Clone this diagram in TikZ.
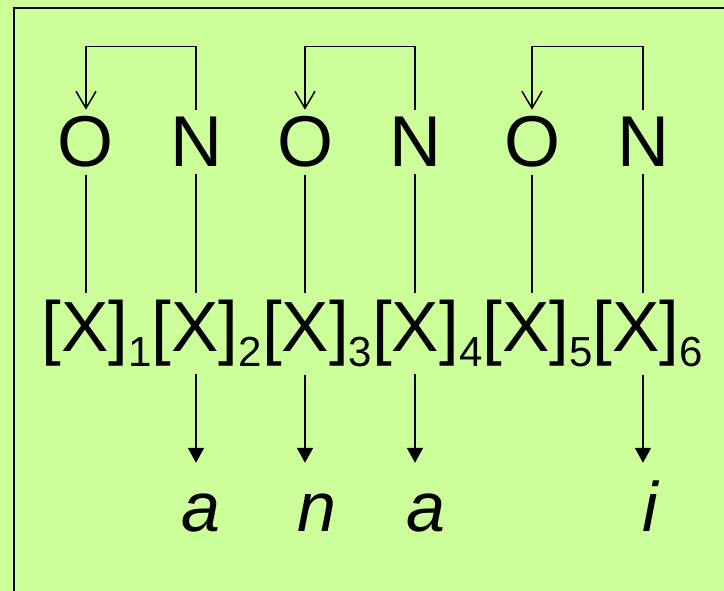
\documentclass[tikz,border=0pt]{standalone}
\usepackage{fontspec}
\setmainfont{Liberation Sans}
\usetikzlibrary{arrows.meta}
\definecolor{paper}{RGB}{204,255,153}
\newcommand{\xslot}[1]{[X]\raisebox{-15pt}{\fontsize{42}{46}\selectfont #1}}

\begin{document}
\begin{tikzpicture}
[x=1pt, y=1pt,
 seg/.style={font=\fontsize{72}{80}\selectfont, anchor=base, inner sep=0pt, outer sep=7pt},
 slot/.style={font=\fontsize{71}{78}\selectfont, anchor=base west, inner sep=0pt, outer sep=7.5pt},
 leaf/.style={font=\fontsize{70}{80}\selectfont\itshape, anchor=base, inner sep=0pt, text height=40pt},
 link/.style={line width=1.8pt},
 assoc/.style={line width=1.5pt, -{Straight Barb[length=17pt, width=20pt, line width=1.5pt]}},
 spell/.style={line width=1.8pt, -{Triangle[length=15pt, width=16pt]}, shorten >=29pt}]
\fill [paper] (0,0) rectangle (724,591);
\clip (0,0) rectangle (724,591);
\draw [line width=2.8pt] (14,-20) rectangle (760,583);
\node (o1) [seg] at (86,424) {O};
\node (n1) [seg] at (196,424) {N};
\node (o2) [seg] at (305,424) {O};
\node (n2) [seg] at (415,424) {N};
\node (o3) [seg] at (532,424) {O};
\node (n3) [seg] at (643,424) {N};
\node (x1) [slot] at (34.1,239) {\xslot{1}};
\node (x2) [slot] at (144.3,239) {\xslot{2}};
\node (x3) [slot] at (254.5,239) {\xslot{3}};
\node (x4) [slot] at (364.7,239) {\xslot{4}};
\node (x5) [slot] at (474.9,239) {\xslot{5}};
\node (x6) [slot] at (585.1,239) {\xslot{6}};
\node (l2) [leaf] at (201,59) {a};
\node (l3) [leaf] at (317,59) {n};
\node (l4) [leaf] at (426,59) {a};
\node (l6) [leaf] at (650,59) {i};
\draw [assoc] (n1.north) -- ++(0,64) -| (o1.north);
\draw [assoc] (n2.north) -- ++(0,64) -| (o2.north);
\draw [assoc] (n3.north) -- ++(0,64) -| (o3.north);
\draw [link] (o1.south) -- (o1 |- x1.north);
\draw [link] (n1.south) -- (n1 |- x2.north);
\draw [link] (o2.south) -- (o2 |- x3.north);
\draw [link] (n2.south) -- (n2 |- x4.north);
\draw [link] (o3.south) -- (o3 |- x5.north);
\draw [link] (n3.south) -- (n3 |- x6.north);
\draw [spell] (n1 |- x2.south) -- (n1 |- l2.north);
\draw [spell] (o2 |- x3.south) -- (o2 |- l3.north);
\draw [spell] (n2 |- x4.south) -- (n2 |- l4.north);
\draw [spell] (n3 |- x6.south) -- (n3 |- l6.north);
\end{tikzpicture}
\end{document}
